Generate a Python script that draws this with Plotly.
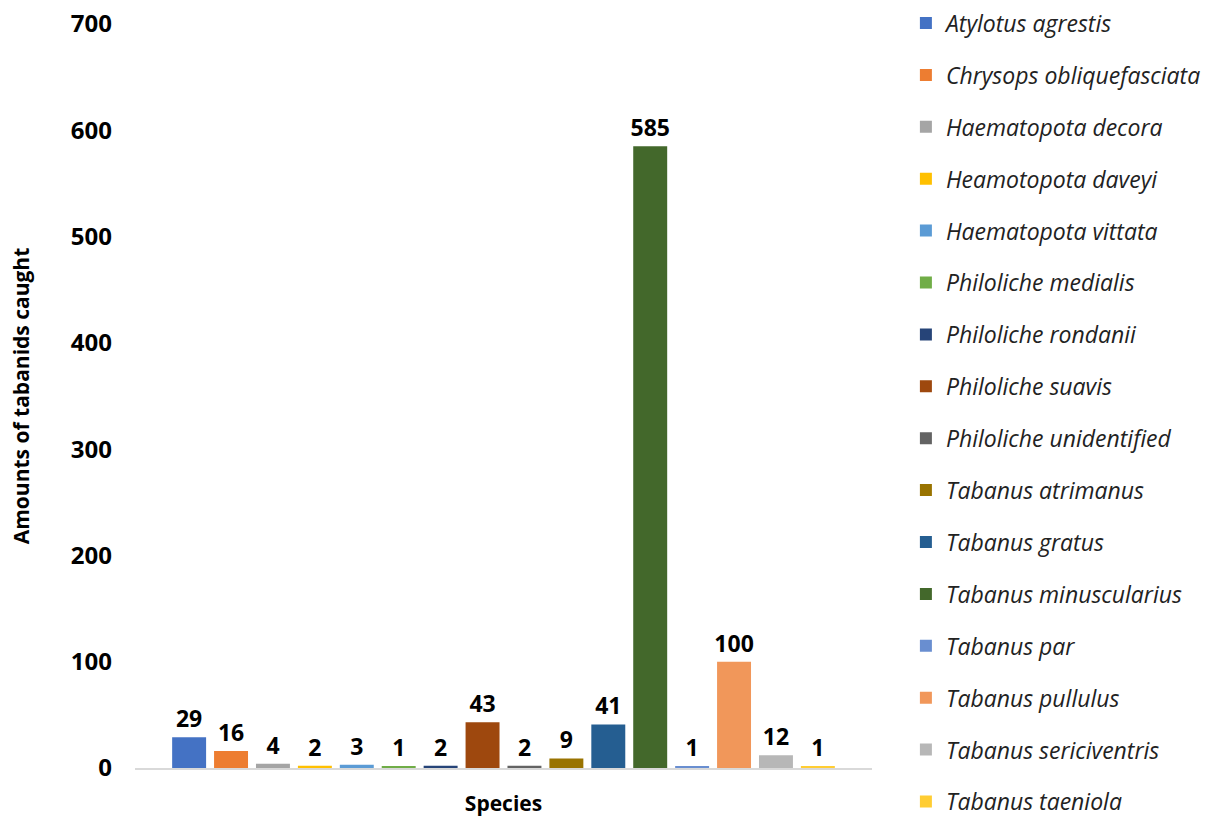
import plotly.graph_objects as go

species = [
    "Atylotus agrestis", "Chrysops obliquefasciata", "Haematopota decora",
    "Heamotopota daveyi", "Haematopota vittata", "Philoliche medialis",
    "Philoliche rondanii", "Philoliche suavis", "Philoliche unidentified",
    "Tabanus atrimanus", "Tabanus gratus", "Tabanus minuscularius",
    "Tabanus par", "Tabanus pullulus", "Tabanus sericiventris", "Tabanus taeniola",
]
counts = [29, 16, 4, 2, 3, 1, 2, 43, 2, 9, 41, 585, 1, 100, 12, 1]
colors = [
    "#4472C4", "#ED7D31", "#A5A5A5", "#FFC000", "#5B9BD5", "#70AD47",
    "#264478", "#9E480E", "#636363", "#997300", "#255E91", "#43682B",
    "#698ED0", "#F1975A", "#B7B7B7", "#FFCD33",
]
y_ticks = [0, 100, 200, 300, 400, 500, 600, 700]

FONT = "Open Sans, Noto Sans, sans-serif"

fig = go.Figure()
for i, (name, val, col) in enumerate(zip(species, counts, colors)):
    fig.add_trace(go.Bar(
        x=["Species"], y=[val], name=name,
        marker=dict(color=col, line=dict(width=0)),
        text=[str(val)],
        textposition="outside",
        textfont=dict(family=FONT, size=23, color="#000000", weight="bold"),
        cliponaxis=False, legendgroup=f"g{i}",
    ))

fig.update_layout(
    width=1224, height=819,
    margin=dict(l=135, r=352, t=24, b=51, autoexpand=False),
    paper_bgcolor="white", plot_bgcolor="white",
    barmode="group", bargap=0.09, bargroupgap=0.19,
    font=dict(family=FONT, color="#000000"),
    showlegend=True,
    legend=dict(
        x=1.046, y=1.0302, xanchor="left", yanchor="top",
        font=dict(family=FONT, size=23, color="#222222", style="italic"),
        traceorder="grouped", tracegroupgap=19,
        itemwidth=30, maxheight=2000,
    ),
    xaxis=dict(
        showticklabels=False, ticks="", showgrid=False,
        showline=True, linecolor="#D9D9D9", linewidth=2,
        title=dict(text="<b>Species</b>", font=dict(family=FONT, size=21), standoff=27),
        zeroline=False, automargin=False,
    ),
    yaxis=dict(
        range=[0, 700], tickvals=y_ticks, showgrid=False, showline=False,
        zeroline=False, ticks="",
        tickfont=dict(family=FONT, size=24, weight="bold"),
        ticklabelstandoff=22,
        title=dict(text="<b>Amounts of tabanids caught</b>", font=dict(family=FONT, size=21), standoff=35),
        automargin=False,
    ),
)
fig.update_traces(constraintext="none")

fig.write_html("out.html")
